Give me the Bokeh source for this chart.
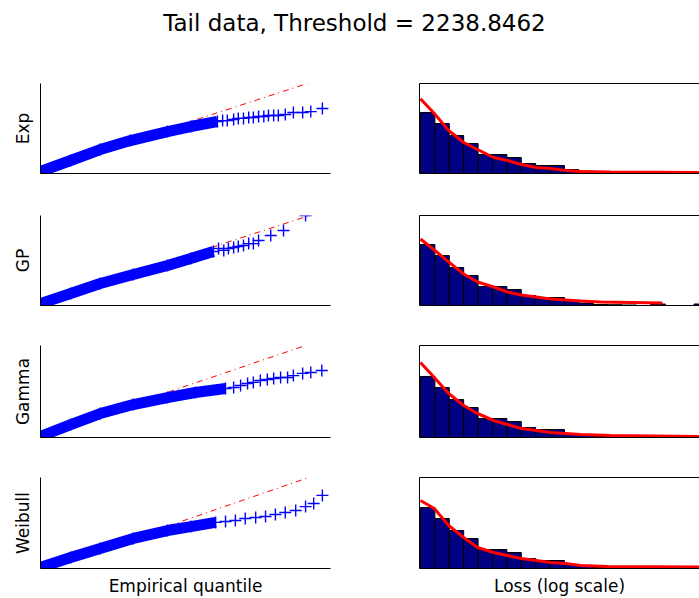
from bokeh.plotting import figure
from bokeh.layouts import column, row
from bokeh.models import Range1d, FixedTicker, LinearAxis, Label
from bokeh.embed import file_html
from bokeh.resources import INLINE

title_text = "Tail data, Threshold = 2238.8462"
dist_names = ["Exp", "GP", "Gamma", "Weibull"]
qq_xlabel = "Empirical quantile"
hist_xlabel = "Loss (log scale)"

# ---- QQ plots: dense part of the point cloud, sparse tail points, reference line ----
exp_band_x = [7.70, 8.22, 8.73, 9.25, 9.89, 10.29, 10.75]
exp_band_y = [7.81, 8.42, 9.03, 9.53, 10.03, 10.31, 10.59]
exp_tail_x = [10.84, 10.92, 11.03, 11.11, 11.20, 11.29, 11.37, 11.46, 11.55, 11.63, 11.72, 11.80, 11.92, 12.06, 12.22, 12.36, 12.56]
exp_tail_y = [10.64, 10.64, 10.70, 10.76, 10.76, 10.81, 10.81, 10.87, 10.87, 10.92, 10.92, 10.92, 10.98, 11.09, 11.09, 11.14, 11.31]
exp_ref_x = [7.70, 12.30]
exp_ref_y = [7.87, 12.70]

gp_band_x = [7.70, 8.22, 8.73, 9.30, 9.89, 10.29, 10.68]
gp_band_y = [7.81, 8.37, 8.92, 9.42, 9.92, 10.31, 10.70]
gp_tail_x = [10.77, 10.86, 10.94, 11.03, 11.11, 11.20, 11.29, 11.37, 11.46, 11.67, 11.89, 12.27]
gp_tail_y = [10.87, 10.76, 10.87, 10.92, 10.98, 11.03, 11.14, 11.14, 11.31, 11.59, 11.87, 12.70]
gp_ref_x = [7.70, 12.34]
gp_ref_y = [7.83, 12.70]

gamma_band_x = [7.70, 8.22, 8.73, 9.30, 9.89, 10.37, 10.89]
gamma_band_y = [7.76, 8.42, 9.03, 9.53, 9.92, 10.20, 10.42]
gamma_tail_x = [11.03, 11.15, 11.27, 11.37, 11.49, 11.61, 11.72, 11.84, 11.96, 12.06, 12.22, 12.36, 12.55]
gamma_tail_y = [10.48, 10.59, 10.70, 10.76, 10.87, 10.92, 10.98, 11.03, 11.03, 11.14, 11.26, 11.31, 11.42]
gamma_ref_x = [7.70, 12.27]
gamma_ref_y = [7.82, 12.81]

weibull_band_x = [7.70, 8.22, 8.73, 9.30, 9.89, 10.29, 10.72]
weibull_band_y = [7.76, 8.31, 8.81, 9.37, 9.81, 10.03, 10.26]
weibull_tail_x = [10.89, 11.06, 11.23, 11.41, 11.58, 11.75, 11.92, 12.10, 12.27, 12.41, 12.56]
weibull_tail_y = [10.31, 10.37, 10.48, 10.53, 10.59, 10.70, 10.81, 10.92, 11.14, 11.31, 11.76]
weibull_ref_x = [7.70, 12.33]
weibull_ref_y = [7.62, 12.76]

# ---- Histogram of log losses (same data in every row) ----
loss_bin_edges = [7.71, 7.96, 8.21, 8.46, 8.71, 8.96, 9.21, 9.46, 9.71, 9.96, 10.21,
                  10.46, 10.71, 10.96, 11.21, 11.46, 11.71, 11.96, 12.21, 12.46, 12.71]
hist_density = [0.61, 0.50, 0.38, 0.30, 0.19, 0.19, 0.16, 0.10, 0.08, 0.08,
                0.04, 0.024, 0.01, 0.008, 0.005, 0.0, 0.015, 0.0, 0.0, 0.015]

# ---- Fitted densities ----
exp_fit_x = [7.71, 7.95, 8.20, 8.46, 8.70, 8.98, 9.22, 9.46, 9.72, 9.97, 10.23, 10.49, 11.01, 12.7]
exp_fit_y = [0.747, 0.60, 0.43, 0.31, 0.24, 0.16, 0.13, 0.09, 0.06, 0.05, 0.03, 0.02, 0.015, 0.01]
gp_fit_x = [7.71, 7.95, 8.20, 8.46, 8.70, 8.98, 9.22, 9.46, 9.72, 9.97, 10.23, 10.49, 10.84, 11.91]
gp_fit_y = [0.665, 0.555, 0.435, 0.315, 0.235, 0.185, 0.135, 0.105, 0.085, 0.065, 0.055, 0.045, 0.035, 0.025]
gamma_fit_x = [7.71, 7.95, 8.20, 8.46, 8.70, 8.98, 9.22, 9.46, 9.72, 9.97, 10.23, 10.49, 11.01, 12.7]
gamma_fit_y = [0.75, 0.60, 0.44, 0.32, 0.24, 0.17, 0.13, 0.09, 0.07, 0.05, 0.04, 0.03, 0.02, 0.01]
weibull_fit_x = [7.71, 7.95, 8.20, 8.46, 8.70, 8.98, 9.22, 9.46, 9.72, 9.97, 10.23, 10.49, 10.96, 12.7]
weibull_fit_y = [0.68, 0.60, 0.43, 0.31, 0.21, 0.16, 0.13, 0.10, 0.08, 0.06, 0.05, 0.03, 0.02, 0.015]

qq_data = [
    (exp_band_x, exp_band_y, exp_tail_x, exp_tail_y, exp_ref_x, exp_ref_y),
    (gp_band_x, gp_band_y, gp_tail_x, gp_tail_y, gp_ref_x, gp_ref_y),
    (gamma_band_x, gamma_band_y, gamma_tail_x, gamma_tail_y, gamma_ref_x, gamma_ref_y),
    (weibull_band_x, weibull_band_y, weibull_tail_x, weibull_tail_y, weibull_ref_x, weibull_ref_y),
]
fit_data = [(exp_fit_x, exp_fit_y), (gp_fit_x, gp_fit_y),
            (gamma_fit_x, gamma_fit_y), (weibull_fit_x, weibull_fit_y)]

# layout (pixels)
FONT = "DejaVu Sans"
row_heights = [132, 132, 131, 143]
border_top = [23, 23, 21, 22]
frame_h = [90, 90, 92, 91]
QQ_PX_PER_UNIT = 18.0
HIST_PX_PER_UNIT = 100.0


def style_axis(ax, label=None, standoff=0):
    ax.ticker = FixedTicker(ticks=[])
    ax.major_tick_out = 0
    ax.major_tick_in = 0
    ax.minor_tick_out = 0
    ax.minor_tick_in = 0
    ax.major_label_standoff = 0
    ax.axis_line_color = "black"
    ax.axis_line_width = 1
    if label:
        ax.axis_label = label
        ax.axis_label_text_font = FONT
        ax.axis_label_text_font_size = "17px"
        ax.axis_label_text_font_style = "normal"
        ax.axis_label_text_color = "black"
        ax.axis_label_standoff = standoff


rows = []
for i in range(4):
    h = row_heights[i]
    bt = border_top[i]
    fh = frame_h[i]
    bb = h - bt - fh
    bx, by, tx, ty, rx, ry = qq_data[i]

    left = figure(width=380, height=h, toolbar_location=None, output_backend="svg",
                  x_range=Range1d(7.7, 12.7),
                  y_range=Range1d(7.7, 7.7 + fh / QQ_PX_PER_UNIT),
                  min_border_left=40, min_border_right=50,
                  min_border_top=bt, min_border_bottom=bb)
    left.grid.visible = False
    left.outline_line_color = None
    style_axis(left.yaxis[0], dist_names[i], 8)
    style_axis(left.xaxis[0], qq_xlabel if i == 3 else None, 7)
    left.line(rx, ry, color="red", line_width=1, line_dash="6 4 1 4")
    left.line(bx, by, color="blue", line_width=11, line_cap="butt", line_join="round")
    left.scatter(bx + tx, by + ty, marker="cross", size=12, line_color="blue", line_width=1.4)

    right = figure(width=319, height=h, toolbar_location=None, output_backend="svg",
                   x_range=Range1d(7.693, 7.693 + 280 / 57.6),
                   y_range=Range1d(0, fh / HIST_PX_PER_UNIT),
                   min_border_left=39, min_border_right=0,
                   min_border_top=bt, min_border_bottom=bb)
    right.grid.visible = False
    right.outline_line_color = None
    style_axis(right.yaxis[0])
    style_axis(right.xaxis[0], hist_xlabel if i == 3 else None, 7)
    top_ax = LinearAxis()
    style_axis(top_ax)
    right.add_layout(top_ax, "above")
    right.quad(left=loss_bin_edges[:-1], right=loss_bin_edges[1:],
               bottom=[0.0] * len(hist_density), top=hist_density,
               fill_color="#000080", line_color="black", line_width=1)
    fx, fy = fit_data[i]
    right.line(fx, fy, color="red", line_width=3)

    rows.append(row(left, right))

title_fig = figure(width=699, height=60, toolbar_location=None, output_backend="svg",
                   x_range=Range1d(0, 699), y_range=Range1d(0, 60),
                   x_axis_location=None, y_axis_location=None, min_border=0)
title_fig.outline_line_color = None
title_fig.grid.visible = False
title_fig.add_layout(Label(x=354, y=37.5, text=title_text, text_align="center",
                           text_baseline="middle", text_font=FONT,
                           text_font_size="23px", text_color="black"))

layout = column(title_fig, *rows)
open("out.html", "w").write(file_html(layout, INLINE))
